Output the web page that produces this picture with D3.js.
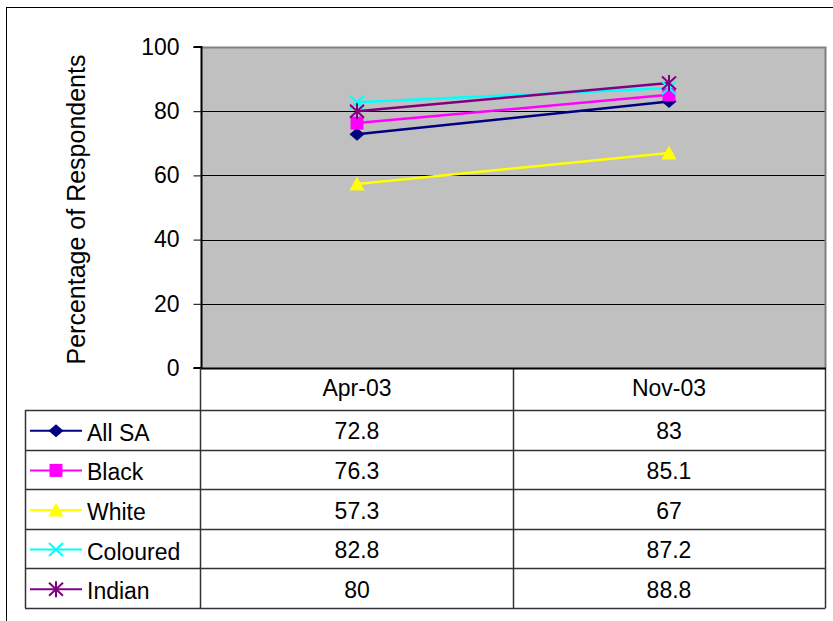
<!DOCTYPE html>
<html>
<head>
<meta charset="utf-8">
<script src="https://cdn.jsdelivr.net/npm/d3@7"></script>
<style>
  html, body { margin: 0; padding: 0; background: #fff; }
  svg { display: block; font-family: "Liberation Sans", Arial, sans-serif; }
</style>
</head>
<body>
<svg id="chart" width="833" height="621"></svg>
<script>
// Survey periods and share of respondents per group
const categories = ["Apr-03", "Nov-03"];
const seriesNames = ["All SA", "Black", "White", "Coloured", "Indian"];
const allSA = [72.8, 83];
const black = [76.3, 85.1];
const white = [57.3, 67];
const coloured = [82.8, 87.2];
const indian = [80, 88.8];
const yTicks = [0, 20, 40, 60, 80, 100];

const seriesValues = [allSA, black, white, coloured, indian];
const colors = ["#000080", "#FF00FF", "#FFFF00", "#00FFFF", "#800080"];
const markers = ["diamond", "square", "triangle", "x", "star"];
const FS = 23;

const svg = d3.select("#chart");

// outer chart frame
svg.append("rect").attr("x", 6.5).attr("y", 7.5).attr("width", 840).attr("height", 640)
  .attr("fill", "none").attr("stroke", "#000").attr("stroke-width", 1);

const plot = { left: 201, right: 825, top: 47, bottom: 368 };

const x = d3.scaleBand().domain(categories).range([plot.left, plot.right]);
const y = d3.scaleLinear().domain([0, 100]).range([plot.bottom, plot.top]);

// plot background
svg.append("rect").attr("x", plot.left).attr("y", plot.top)
  .attr("width", plot.right - plot.left).attr("height", plot.bottom - plot.top)
  .attr("fill", "#C0C0C0");

// gridlines
svg.append("g").selectAll("line").data(yTicks.filter(t => t > 0 && t < 100)).join("line")
  .attr("x1", plot.left).attr("x2", plot.right)
  .attr("y1", d => Math.round(y(d)) + 0.5).attr("y2", d => Math.round(y(d)) + 0.5)
  .attr("stroke", "#000").attr("stroke-width", 1);

// top and right frame of the plot area
svg.append("path")
  .attr("d", `M${plot.left},${plot.top + 0.5}H${plot.right + 0.5}V${plot.bottom}`)
  .attr("fill", "none").attr("stroke", "#808080").attr("stroke-width", 2);

// y axis
const yAxis = d3.axisLeft(y).tickValues(yTicks).tickSize(8).tickPadding(14);
const gy = svg.append("g").attr("transform", `translate(${plot.left + 0.5},0)`).call(yAxis);
gy.select(".domain").attr("stroke", "#000").attr("stroke-width", 2)
  .attr("d", `M-8,${y(100)}H0V${y(0)}H-8`);
gy.selectAll(".tick line").attr("stroke", "#000");
gy.selectAll(".tick text").attr("font-size", FS).attr("fill", "#000")
  .attr("font-family", "Liberation Sans, Arial, sans-serif");

// axis title
svg.append("text")
  .attr("transform", `translate(85,${(plot.top + plot.bottom) / 2 + 2}) rotate(-90)`)
  .attr("text-anchor", "middle").attr("font-size", 25).attr("fill", "#000")
  .text("Percentage of Respondents");

// marker shapes
function drawMarker(g, type, color, cx, cy) {
  if (type === "diamond") {
    g.append("path").attr("d", `M${cx},${cy - 6.5}L${cx + 7.5},${cy}L${cx},${cy + 6.5}L${cx - 7.5},${cy}Z`).attr("fill", color);
  } else if (type === "square") {
    g.append("rect").attr("x", cx - 6.5).attr("y", cy - 6.5).attr("width", 13).attr("height", 13).attr("fill", color);
  } else if (type === "triangle") {
    g.append("path").attr("d", `M${cx},${cy - 7.5}L${cx + 7.5},${cy + 6.5}L${cx - 7.5},${cy + 6.5}Z`).attr("fill", color);
  } else if (type === "x") {
    g.append("path").attr("d", `M${cx - 7},${cy - 6.5}L${cx + 7},${cy + 6.5}M${cx + 7},${cy - 6.5}L${cx - 7},${cy + 6.5}`)
      .attr("stroke", color).attr("stroke-width", 2);
  } else if (type === "star") {
    g.append("path").attr("d", `M${cx - 7},${cy - 6.5}L${cx + 7},${cy + 6.5}M${cx + 7},${cy - 6.5}L${cx - 7},${cy + 6.5}M${cx},${cy - 8}V${cy + 8}`)
      .attr("stroke", color).attr("stroke-width", 2);
  }
}

// series lines and markers
const line = d3.line().x((d, i) => x(categories[i]) + x.bandwidth() / 2).y(d => y(d));
const gs = svg.append("g");
seriesValues.forEach((vals, s) => {
  gs.append("path").attr("d", line(vals)).attr("fill", "none")
    .attr("stroke", colors[s]).attr("stroke-width", 2.5);
});
seriesValues.forEach((vals, s) => {
  vals.forEach((v, i) => drawMarker(gs, markers[s], colors[s], x(categories[i]) + x.bandwidth() / 2, y(v)));
});

// data table below the plot
const table = { left: 25, top: 368, headerBottom: 410, rowH: 39.6 };
const tg = svg.append("g");
const rowsBottom = table.headerBottom + table.rowH * seriesNames.length;

// vertical dividers
[plot.left - 0.5, Math.round(x(categories[1])) + 0.5, plot.right + 0.5].forEach(px => {
  tg.append("line").attr("x1", px).attr("x2", px).attr("y1", table.top).attr("y2", rowsBottom)
    .attr("stroke", "#333").attr("stroke-width", 1.5);
});
tg.append("line").attr("x1", table.left + 0.5).attr("x2", table.left + 0.5)
  .attr("y1", table.headerBottom).attr("y2", rowsBottom).attr("stroke", "#333").attr("stroke-width", 1.5);
// horizontal dividers
d3.range(seriesNames.length + 1).forEach(r => {
  const py = Math.round(table.headerBottom + r * table.rowH) + 0.5;
  tg.append("line").attr("x1", table.left).attr("x2", plot.right + 0.5).attr("y1", py).attr("y2", py)
    .attr("stroke", "#333").attr("stroke-width", 1.5);
});
// bottom of plot / top of table
tg.append("line").attr("x1", plot.left).attr("x2", plot.right + 1).attr("y1", plot.bottom + 0.5).attr("y2", plot.bottom + 0.5)
  .attr("stroke", "#000").attr("stroke-width", 2);

// header labels
categories.forEach(c => {
  tg.append("text").attr("x", x(c) + x.bandwidth() / 2).attr("y", 396)
    .attr("text-anchor", "middle").attr("font-size", FS).attr("fill", "#000").text(c);
});

// row labels with legend keys and values
seriesNames.forEach((name, s) => {
  const cy = table.headerBottom + (s + 0.5) * table.rowH;
  tg.append("line").attr("x1", 30).attr("x2", 82).attr("y1", cy + 1).attr("y2", cy + 1)
    .attr("stroke", colors[s]).attr("stroke-width", 2);
  drawMarker(tg, markers[s], colors[s], 56, cy + 1);
  tg.append("text").attr("x", 87).attr("y", cy + 11).attr("font-size", FS).attr("fill", "#000").text(name);
  seriesValues[s].forEach((v, i) => {
    tg.append("text").attr("x", x(categories[i]) + x.bandwidth() / 2).attr("y", cy + 9.5)
      .attr("text-anchor", "middle").attr("font-size", FS).attr("fill", "#000").text(v);
  });
});
</script>
</body>
</html>
